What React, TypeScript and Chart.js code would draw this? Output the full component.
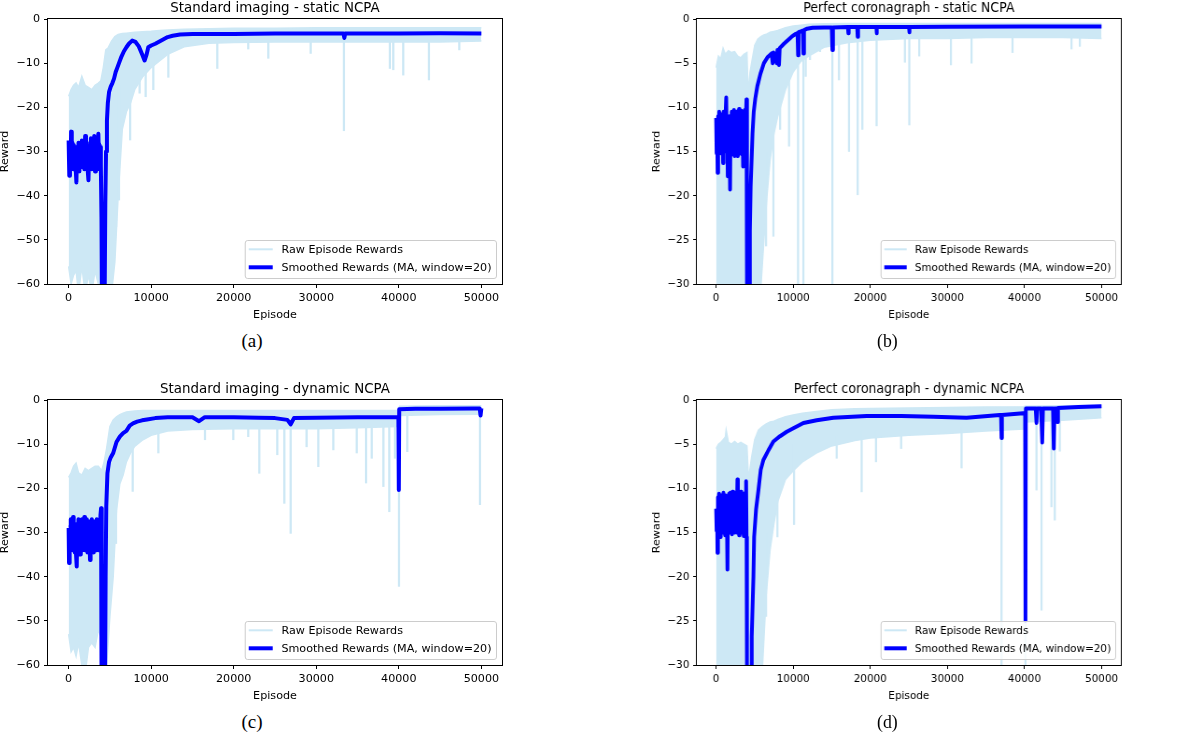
import React, { useEffect, useRef } from "react";
import { Chart, registerables } from "chart.js";

Chart.register(...registerables);

// [episode, upper edge, lower edge] of a dense trace drawn as a filled band
type BandRow = [number, number, number];
// [episode, lowest reward, top of the stroke] for isolated raw drops
type SpikeRow = [number, number, number];
// [episode, smoothed reward]
type Point = [number, number];

const FONT = "'DejaVu Sans', 'Noto Sans', sans-serif";
const CAPTION_FONT = "'Liberation Serif', 'DejaVu Serif', serif";
const RAW_COLOR = "#cde8f5";
const SMOOTH_COLOR = "#0000ff";

const RAW_LABEL = "Raw Episode Rewards";
const SMOOTH_LABEL = "Smoothed Rewards (MA, window=20)";
const X_LABEL = "Episode";
const Y_LABEL = "Reward";

const EPISODE_TICKS = [0, 10000, 20000, 30000, 40000, 50000];
const WIDE_REWARD_TICKS = [-60, -50, -40, -30, -20, -10, 0];
const NARROW_REWARD_TICKS = [-30, -25, -20, -15, -10, -5, 0];

// ---------- (a) Standard imaging - static NCPA ----------
const A_RAW: BandRow[] = [
  [0, -17.5, -56], [300, -16, -60], [600, -15, -58], [900, -14.5, -57], [1200, -15.5, -62],
  [1600, -13, -56], [2000, -15, -62], [2400, -15.5, -58], [2800, -16, -62], [3200, -15, -57],
  [3600, -14.5, -60], [3900, -14, -62], [4200, -11, -62], [4500, -7, -62], [4800, -6.5, -62],
  [5200, -5, -62], [5600, -4, -55], [6000, -3.5, -40], [6500, -3.3, -25], [7000, -3.2, -21],
  [7500, -3.1, -19], [8000, -3.0, -16], [9000, -2.9, -13], [10000, -2.8, -11], [11000, -2.6, -9.5],
  [12000, -2.5, -8], [14000, -2.3, -6.3], [17000, -2.2, -5.5], [20000, -2.1, -5.3], [25000, -2.1, -5.2],
  [30000, -2.0, -5.2], [35000, -2.0, -5.2], [40000, -2.0, -5.2], [45000, -2.0, -5.2], [49999, -2.0, -5.0],
];
const A_SPIKES: SpikeRow[] = [
  [5750, -47, -20], [6100, -41, -15], [7450, -27.4, -10], [8600, -16.8, -8], [9330, -17.6, -8],
  [10260, -16, -6], [12080, -13.2, -5], [18010, -11.2, -4], [21760, -6.8, -4], [24190, -8.9, -4],
  [29320, -7.8, -4], [33350, -25.3, -4], [38920, -11.2, -4], [39330, -11.5, -4], [40540, -12.7, -4],
  [43650, -13.8, -4], [47330, -7, -4],
];
const A_SPREAD: BandRow[] = [
  [0, -28, -34], [400, -28.5, -33], [800, -29, -34], [1200, -28.5, -33], [1600, -28, -33.5],
  [2000, -27.5, -33], [2400, -28.5, -34], [2800, -28, -33], [3200, -27.5, -33.5], [3600, -27.5, -33],
  [3950, -28.5, -33],
];
const A_SMOOTHED: Point[] = [
  [0, -27.5], [80, -35.5], [160, -30], [240, -34], [300, -25.5], [380, -33], [460, -28], [540, -34],
  [620, -28.5], [700, -33.5], [780, -29], [860, -34], [940, -37], [1020, -29], [1100, -33], [1200, -28],
  [1300, -34.5], [1400, -28.5], [1500, -33], [1600, -27.5], [1700, -33.5], [1800, -28], [1900, -34],
  [2000, -26.5], [2100, -33], [2200, -28], [2300, -34], [2400, -36.5], [2500, -29], [2600, -33],
  [2700, -27], [2800, -34], [2900, -28], [3000, -33.5], [3100, -26.5], [3200, -34.5], [3300, -28],
  [3400, -33], [3500, -27.5], [3600, -26], [3700, -34], [3800, -29], [3900, -33], [3980, -45],
  [4060, -75], [4320, -75], [4440, -42], [4530, -30], [4640, -23], [4750, -19], [4900, -16.5],
  [5100, -15.3], [5300, -14.5], [5500, -13.5], [5700, -12], [5900, -11], [6100, -10], [6400, -8.5],
  [6700, -7.3], [7000, -6.4], [7300, -5.6], [7700, -4.9], [8100, -5.2], [8500, -6.2], [8900, -8],
  [9200, -9.4], [9450, -8], [9650, -6.4], [10000, -6], [10500, -5.6], [11000, -5.1], [11500, -4.6],
  [12000, -4.1], [12600, -3.8], [13500, -3.5], [15000, -3.4], [20000, -3.4], [25000, -3.3],
  [30000, -3.3], [33300, -3.3], [33400, -4.3], [33500, -3.3], [40000, -3.3], [45000, -3.2], [49999, -3.3],
];

// ---------- (b) Perfect coronagraph - static NCPA ----------
const B_RAW: BandRow[] = [
  [0, -5.5, -30.5], [300, -4.2, -30.5], [600, -4.5, -30.5], [900, -3.3, -30.5], [1200, -4, -30.5],
  [1600, -3.6, -30.5], [2000, -3.8, -30.5], [2400, -3.7, -30.5], [2800, -4.2, -30.5], [3200, -4.4, -30.5],
  [3600, -4, -30.5], [4000, -3.8, -30.5], [4150, -8.5, -30.5], [4400, -6, -30.5], [4700, -4.5, -30.5],
  [5000, -3, -30.5], [5400, -2.3, -30.5], [5800, -2, -30.5], [6200, -1.8, -25], [6600, -1.7, -20],
  [7000, -1.5, -16], [7500, -1.4, -13], [8000, -1.3, -11], [9000, -1.0, -8], [10000, -0.8, -6],
  [11000, -0.7, -4.8], [12000, -0.6, -4.2], [14000, -0.55, -3.2], [17000, -0.5, -2.7], [20000, -0.5, -2.4],
  [25000, -0.5, -2.2], [30000, -0.5, -2.2], [35000, -0.5, -2.1], [40000, -0.5, -2.1], [45000, -0.5, -2.1],
  [49999, -0.5, -2.2],
];
const B_SPIKES: SpikeRow[] = [
  [6480, -25.7, -15], [7430, -24.6, -10], [8300, -12.5, -8], [9460, -14.4, -6], [10630, -30.5, -4],
  [11320, -30.5, -4], [11620, -6.5, -3], [12180, -4.6, -3], [13480, -3.7, -2.5], [15080, -30.5, -2.5],
  [15940, -6.9, -2], [17240, -15, -2], [18360, -19.9, -2], [18970, -12.5, -2], [20820, -12.1, -2],
  [24490, -4.9, -2], [25060, -12, -2], [26350, -4.2, -2], [30460, -5.2, -2], [33130, -5, -2],
  [38450, -3.8, -2], [46100, -3.4, -2], [47180, -3.1, -2],
];
const B_SPREAD: BandRow[] = [
  [0, -11.5, -14.8], [500, -11.2, -14.5], [1000, -11, -15], [1500, -11.5, -15], [2000, -11, -14.6],
  [2500, -11, -14.8], [3000, -10.8, -14.6], [3500, -11, -15], [3950, -11, -14.8],
];
const B_SMOOTHED: Point[] = [
  [0, -11.2], [60, -15.2], [120, -12], [190, -17.4], [260, -11], [330, -15], [400, -10.5], [470, -14.8],
  [540, -11.5], [610, -15.2], [680, -10.8], [750, -14.5], [820, -11], [900, -16.3], [970, -10.5],
  [1040, -15], [1110, -11.5], [1180, -14.6], [1250, -10.2], [1310, -8.9], [1380, -14], [1450, -11.5],
  [1510, -17.8], [1580, -12], [1650, -14.5], [1720, -11], [1810, -19.3], [1880, -11.5], [1950, -14.8],
  [2020, -10.5], [2100, -15.3], [2170, -11], [2250, -14.6], [2320, -10.3], [2400, -15.5], [2470, -11.2],
  [2550, -14.6], [2620, -10.5], [2700, -15], [2760, -15.5], [2830, -11], [2900, -14.5], [2970, -10.2],
  [3050, -15.2], [3120, -11], [3200, -14.6], [3270, -10.4], [3350, -15.3], [3420, -11], [3500, -16.7],
  [3570, -10.6], [3650, -15], [3720, -10.3], [3800, -15.3], [3870, -11], [3930, -9.1], [3980, -15],
  [4030, -31], [4300, -31], [4380, -24], [4480, -19], [4580, -16.5], [4720, -13], [4880, -10.5],
  [5080, -9], [5350, -7.6], [5750, -6.2], [6200, -5], [6700, -4.3], [7200, -3.9], [7340, -5],
  [7450, -3.8], [7860, -5], [7950, -3.5], [8160, -5.2], [8250, -3.3], [8800, -2.8], [9300, -2.4],
  [9800, -2], [10300, -1.7], [10560, -1.6], [10630, -4.1], [10700, -1.5], [11000, -1.4], [11250, -1.3],
  [11320, -3.9], [11400, -1.25], [11800, -1.1], [12500, -1.0], [14000, -0.95], [15000, -0.95],
  [15080, -3.5], [15160, -0.95], [17100, -0.9], [17150, -1.6], [17200, -0.9], [18300, -0.9],
  [18360, -2.0], [18420, -0.9], [20780, -0.9], [20820, -1.6], [20860, -0.9], [25020, -0.9],
  [25060, -1.5], [25100, -0.9], [30000, -0.88], [40000, -0.85], [49999, -0.85],
];

// ---------- (c) Standard imaging - dynamic NCPA ----------
const C_RAW: BandRow[] = [
  [0, -17.5, -53], [300, -16.5, -57], [600, -15, -56], [900, -14.3, -58], [1200, -16.5, -55],
  [1600, -17, -60], [2000, -15.5, -62], [2400, -16, -56], [2800, -15.5, -55], [3200, -15, -56],
  [3600, -15, -52], [4000, -16, -54], [4300, -14, -62], [4600, -11, -60], [5000, -6, -49],
  [5400, -4.5, -40], [5800, -3.8, -25], [6200, -3.3, -19], [6600, -3, -17], [7000, -2.7, -14],
  [7500, -2.6, -12], [8000, -2.5, -10.5], [9000, -2.4, -9], [10000, -2.4, -8], [12000, -2.4, -7],
  [15000, -2.4, -6.7], [20000, -2.4, -6.5], [25000, -2.4, -6.5], [30000, -2.4, -6.5], [35000, -2.4, -6.3],
  [39900, -2.4, -6], [40100, -1.4, -3.5], [45000, -1.3, -3.3], [49999, -1.3, -3.2],
];
const C_SPIKES: SpikeRow[] = [
  [5740, -32.5, -20], [7760, -20.7, -10], [10870, -12, -6], [16520, -9, -5], [19950, -9, -5],
  [21760, -8.3, -5], [23100, -16.6, -5], [25280, -12.4, -5], [26130, -23.4, -5], [26900, -30.2, -5],
  [28830, -10.6, -5], [30250, -15.1, -5], [32070, -11.3, -5], [34900, -12, -5], [36030, -18.8, -5],
  [36720, -13.2, -5], [38130, -19.6, -5], [38850, -25.3, -5], [39530, -13.2, -5], [40020, -42.2, -5],
  [41030, -11.7, -2.5], [49830, -23.7, -2.5],
];
const C_SPREAD: BandRow[] = [
  [0, -28.5, -34], [400, -28, -33.5], [800, -29, -34.5], [1200, -28, -34], [1600, -27.5, -33.5],
  [2000, -28, -33.5], [2400, -28, -34], [2800, -27.5, -33], [3200, -28, -33.5], [3600, -28, -33.5],
  [3950, -27, -33],
];
const C_SMOOTHED: Point[] = [
  [0, -29], [50, -36.9], [120, -30], [190, -34], [260, -27], [330, -33.5], [400, -28], [470, -34],
  [540, -26.5], [610, -33], [680, -28.5], [750, -34.5], [820, -29], [900, -35], [980, -37.7],
  [1050, -28], [1120, -33.5], [1190, -27], [1260, -34], [1330, -28], [1400, -35], [1470, -27.5],
  [1540, -33], [1610, -27], [1680, -34], [1750, -28.5], [1830, -33.5], [1900, -26.5], [1980, -34],
  [2050, -28], [2130, -33], [2200, -27], [2280, -34.5], [2350, -28], [2430, -33.5], [2500, -27.5],
  [2590, -36.2], [2660, -28], [2740, -34], [2810, -27], [2890, -33], [2960, -28], [3040, -34.5],
  [3110, -27.5], [3190, -33], [3260, -28], [3340, -34], [3410, -27], [3490, -33.5], [3560, -28],
  [3640, -34], [3710, -27.5], [3790, -33], [3860, -26], [3930, -24.5], [3980, -34], [4030, -75],
  [4380, -75], [4480, -40], [4560, -24], [4700, -16.6], [4900, -14], [5100, -13], [5400, -12],
  [5800, -9.5], [6200, -8.3], [6600, -7.5], [7000, -7], [7400, -5.8], [7800, -5.3], [8300, -4.9],
  [8900, -4.6], [9500, -4.4], [10500, -4.1], [12000, -3.9], [15000, -3.9], [15800, -4.8], [16500, -3.9],
  [20000, -3.9], [23000, -4], [25000, -4.1], [26500, -4.5], [26900, -5.5], [27300, -4.1], [30000, -4],
  [35000, -3.9], [39950, -3.9], [40000, -20.4], [40050, -2.1], [42000, -2.0], [45000, -2.0],
  [49000, -1.9], [49800, -1.9], [49900, -3.5], [49999, -1.9],
];

// ---------- (d) Perfect coronagraph - dynamic NCPA ----------
const D_RAW: BandRow[] = [
  [0, -5.5, -30.5], [300, -5, -30.5], [600, -4.8, -30.5], [900, -4.5, -30.5], [1200, -4.2, -30.5],
  [1300, -3.4, -30.5], [1600, -4.8, -30.5], [2000, -5, -30.5], [2400, -4.7, -30.5], [2800, -5, -30.5],
  [3200, -4.8, -30.5], [3600, -5, -30.5], [4000, -5.2, -30.5], [4200, -9, -30.5], [4600, -6.5, -30.5],
  [5000, -4.5, -30.5], [5500, -3.4, -30.5], [6000, -3, -30.5], [6500, -2.7, -22], [7000, -2.5, -17],
  [7500, -2.4, -14], [8000, -2.2, -11.5], [9000, -1.9, -9], [10000, -1.7, -8], [11200, -1.5, -7],
  [13000, -1.3, -6], [15000, -1.1, -5.2], [18000, -1.0, -4.6], [20000, -0.95, -4.3], [25000, -0.9, -4],
  [30000, -0.85, -3.8], [35000, -0.8, -3.5], [39900, -0.75, -3.3], [40100, -0.7, -2.5], [45000, -0.65, -2.3],
  [49999, -0.6, -2],
];
const D_SPIKES: SpikeRow[] = [
  [6480, -24.5, -15], [7950, -15.5, -8], [10110, -14.1, -5], [15640, -6.6, -4], [18880, -10.4, -3.5],
  [20740, -7, -3.5], [24000, -5.5, -3.5], [31840, -7.7, -3], [37020, -30.5, -3], [40130, -30.5, -2],
  [41560, -10.2, -2], [42210, -23.8, -2], [43500, -12.1, -2], [43930, -13.6, -2], [44580, -5.8, -2],
];
const D_SPREAD: BandRow[] = [
  [0, -12.5, -14.8], [500, -11.2, -14.8], [1000, -11, -15], [1500, -11.2, -14.8], [2000, -11, -14.8],
  [2500, -11, -14.6], [3000, -11, -15], [3500, -11, -14.8], [3900, -10.8, -15],
];
const D_SMOOTHED: Point[] = [
  [0, -12.3], [60, -14.8], [120, -12.5], [170, -17.3], [240, -11], [310, -15], [380, -10.6], [450, -14.5],
  [520, -11], [600, -15.5], [670, -10.8], [740, -14.8], [810, -11.4], [880, -15], [950, -10.5],
  [1020, -14.6], [1090, -11], [1160, -15.3], [1230, -10.8], [1300, -14.5], [1380, -11.5], [1470, -19.2],
  [1540, -11], [1610, -14.5], [1680, -10.6], [1760, -15], [1830, -10.5], [1910, -14.7], [1980, -11],
  [2060, -15.2], [2130, -10.4], [2210, -14.5], [2280, -11], [2360, -15], [2430, -10.5], [2510, -14.6],
  [2580, -11], [2660, -15], [2760, -9.0], [2830, -14], [2900, -10.8], [2980, -15.3], [3050, -11],
  [3130, -14.6], [3200, -10.4], [3280, -15], [3350, -11], [3430, -14.5], [3500, -10.6], [3580, -15.4],
  [3650, -11], [3730, -14.8], [3800, -10.5], [3890, -9.2], [3950, -15.5], [4000, -31], [4550, -31],
  [4620, -26.8], [4840, -20], [4930, -15.5], [5180, -12.4], [5490, -10.2], [5790, -7.9], [6130, -6.8],
  [6780, -5.7], [7430, -4.7], [8290, -4.1], [9160, -3.6], [10020, -3.2], [11320, -2.6], [13050, -2.3],
  [15210, -2.0], [19530, -1.8], [24000, -1.8], [28170, -1.9], [32490, -2.0], [36800, -1.7],
  [36960, -1.7], [37020, -4.3], [37080, -1.7], [39830, -1.5], [40080, -1.5], [40130, -25],
  [40180, -0.95], [41450, -0.95], [41560, -2.6], [41650, -0.95], [42150, -0.95], [42300, -4.8],
  [42400, -0.95], [43700, -0.95], [43800, -5.5], [43900, -0.95], [44250, -0.95], [44300, -2.5],
  [44350, -0.9], [47000, -0.8], [49999, -0.7],
];

// Each subplot is laid out in its own 560 x 356 box; the right-hand column is narrower on the page.
const CANVAS_W = 560;
const CANVAS_H = 330;
const BOX_H = 356;

interface PanelSpec {
  title: string;
  caption: string;
  yMin: number;
  yTicks: number[];
  raw: BandRow[];
  spikes: SpikeRow[];
  spread: BandRow[];
  smoothed: Point[];
  left: number;
  top: number;
  squeeze: number;
}

const PANELS: PanelSpec[] = [
  { title: "Standard imaging - static NCPA", caption: "(a)", yMin: -60, yTicks: WIDE_REWARD_TICKS,
    raw: A_RAW, spikes: A_SPIKES, spread: A_SPREAD, smoothed: A_SMOOTHED, left: 0, top: 0, squeeze: 1 },
  { title: "Perfect coronagraph - static NCPA", caption: "(b)", yMin: -30, yTicks: NARROW_REWARD_TICKS,
    raw: B_RAW, spikes: B_SPIKES, spread: B_SPREAD, smoothed: B_SMOOTHED, left: 652.2, top: 0, squeeze: 0.9339 },
  { title: "Standard imaging - dynamic NCPA", caption: "(c)", yMin: -60, yTicks: WIDE_REWARD_TICKS,
    raw: C_RAW, spikes: C_SPIKES, spread: C_SPREAD, smoothed: C_SMOOTHED, left: 0, top: 381, squeeze: 1 },
  { title: "Perfect coronagraph - dynamic NCPA", caption: "(d)", yMin: -30, yTicks: NARROW_REWARD_TICKS,
    raw: D_RAW, spikes: D_SPIKES, spread: D_SPREAD, smoothed: D_SMOOTHED, left: 652.2, top: 381, squeeze: 0.9339 },
];

const formatReward = (v: number | string) => {
  const n = Number(v);
  return n < 0 ? "\u2212" + Math.abs(n) : String(n);
};

// Black box around the plotting area, drawn over the data like axis spines.
const framePlugin = {
  id: "axesFrame",
  afterDatasetsDraw(chart: any) {
    const { ctx, chartArea: a } = chart;
    ctx.save();
    ctx.strokeStyle = "#000";
    ctx.lineWidth = 1;
    ctx.strokeRect(a.left - 0.5, a.top - 0.5, a.right - a.left + 1, a.bottom - a.top + 1);
    ctx.restore();
  },
};

// Legend box in the lower-right corner of the plotting area.
const cornerLegendPlugin = {
  id: "cornerLegend",
  afterDraw(chart: any) {
    const { ctx, chartArea: a } = chart;
    const items = [
      { text: RAW_LABEL, color: RAW_COLOR, width: 2 },
      { text: SMOOTH_LABEL, color: SMOOTH_COLOR, width: 4 },
    ];
    ctx.save();
    ctx.font = `11.15px ${FONT}`;
    const textW = Math.max(...items.map((it) => ctx.measureText(it.text).width));
    const w = 36.7 + textW + 4.5;
    const h = 38;
    const x = a.right - 6 - w;
    const y = a.bottom - 6 - h;
    ctx.beginPath();
    ctx.roundRect(x + 0.5, y + 0.5, w, h, 2.5);
    ctx.fillStyle = "rgba(255,255,255,0.8)";
    ctx.fill();
    ctx.strokeStyle = "#cccccc";
    ctx.lineWidth = 1;
    ctx.stroke();
    items.forEach((it, i) => {
      const cy = y + 9.3 + i * 18;
      ctx.beginPath();
      ctx.moveTo(x + 4, cy);
      ctx.lineTo(x + 28, cy);
      ctx.strokeStyle = it.color;
      ctx.lineWidth = it.width;
      ctx.stroke();
      ctx.fillStyle = "#000";
      ctx.textAlign = "left";
      ctx.textBaseline = "middle";
      ctx.fillText(it.text, x + 36.7, cy + 0.5);
    });
    ctx.restore();
  },
};

const tickFont = { family: FONT, size: 11.15 };
const axisGrid = {
  display: true,
  drawOnChartArea: false,
  drawTicks: true,
  tickLength: 4,
  color: "#000",
  lineWidth: 1,
  offset: false,
};

const bandEdge = (rows: BandRow[], col: 1 | 2) => rows.map((r) => ({ x: r[0], y: r[col] }));

function buildConfig(p: PanelSpec): any {
  const lineBase = { type: "line", pointRadius: 0, tension: 0, clip: 0 };
  return {
    type: "line",
    data: {
      datasets: [
        {
          ...lineBase,
          label: SMOOTH_LABEL,
          data: p.smoothed.map(([x, y]) => ({ x, y })),
          borderColor: SMOOTH_COLOR,
          borderWidth: 4,
          borderJoinStyle: "round",
          fill: false,
          order: 0,
        },
        {
          ...lineBase,
          label: SMOOTH_LABEL + " (spread)",
          data: bandEdge(p.spread, 1),
          borderColor: SMOOTH_COLOR,
          borderWidth: 1,
          fill: false,
          order: 1,
        },
        {
          ...lineBase,
          label: SMOOTH_LABEL + " (spread floor)",
          data: bandEdge(p.spread, 2),
          borderColor: SMOOTH_COLOR,
          backgroundColor: SMOOTH_COLOR,
          borderWidth: 1,
          fill: "-1",
          order: 2,
        },
        {
          type: "bar",
          label: RAW_LABEL + " (drops)",
          data: p.spikes.map(([x, lo, hi]) => ({ x, y: [lo, hi] })),
          backgroundColor: RAW_COLOR,
          borderWidth: 0,
          barThickness: 1.6,
          order: 3,
          clip: 0,
        },
        {
          ...lineBase,
          label: RAW_LABEL,
          data: bandEdge(p.raw, 1),
          borderColor: RAW_COLOR,
          borderWidth: 1.5,
          fill: false,
          order: 4,
        },
        {
          ...lineBase,
          label: RAW_LABEL + " (lower)",
          data: bandEdge(p.raw, 2),
          borderColor: RAW_COLOR,
          backgroundColor: RAW_COLOR,
          borderWidth: 1.5,
          fill: "-1",
          order: 5,
        },
      ],
    },
    options: {
      responsive: false,
      animation: false,
      devicePixelRatio: 1,
      events: [],
      layout: { padding: { left: 0, right: 58, top: 0, bottom: 0 } },
      plugins: {
        legend: { display: false },
        tooltip: { enabled: false },
        title: {
          display: true,
          text: p.title,
          color: "#000",
          fullSize: false,
          font: { family: FONT, size: 13.4, weight: "normal", lineHeight: 1.2 },
          padding: { top: 0, bottom: 2.92 },
        },
      },
      scales: {
        x: {
          type: "linear",
          min: -2500,
          max: 52500,
          offset: false,
          grid: axisGrid,
          border: { display: false },
          ticks: {
            color: "#000",
            font: tickFont,
            padding: 3,
            maxRotation: 0,
            autoSkip: false,
            callback: (v: number | string) => String(v),
          },
          title: {
            display: true,
            text: X_LABEL,
            color: "#000",
            font: { family: FONT, size: 11.15, lineHeight: 1 },
            padding: { top: 0, bottom: 9.4 },
          },
          afterBuildTicks: (s: any) => {
            s.ticks = EPISODE_TICKS.map((value) => ({ value }));
          },
          afterFit: (s: any) => {
            s.height = 46;
          },
        },
        y: {
          type: "linear",
          min: p.yMin,
          max: 0,
          beginAtZero: false,
          grid: axisGrid,
          border: { display: false },
          ticks: {
            color: "#000",
            font: tickFont,
            padding: 4,
            autoSkip: false,
            callback: formatReward,
          },
          title: {
            display: true,
            text: Y_LABEL,
            color: "#000",
            font: { family: FONT, size: 11.15, lineHeight: 1 },
            padding: { top: 0, bottom: 0 },
          },
          afterBuildTicks: (s: any) => {
            s.ticks = p.yTicks.map((value) => ({ value }));
          },
          afterFit: (s: any) => {
            s.width = 48;
          },
        },
      },
    },
    plugins: [framePlugin, cornerLegendPlugin],
  };
}

function Panel({ spec }: { spec: PanelSpec }) {
  const ref = useRef<HTMLCanvasElement | null>(null);
  useEffect(() => {
    if (!ref.current) return;
    const chart = new Chart(ref.current, buildConfig(spec));
    return () => chart.destroy();
  }, [spec]);
  return (
    <div
      style={{
        position: "absolute",
        left: spec.left,
        top: spec.top,
        width: CANVAS_W,
        height: BOX_H,
        transform: `scaleX(${spec.squeeze})`,
        transformOrigin: "0 0",
      }}
    >
      <canvas ref={ref} width={CANVAS_W} height={CANVAS_H} style={{ display: "block" }} />
      <div
        style={{
          position: "absolute",
          left: 252 - 40,
          top: 342.7 - 11.4,
          width: 80,
          textAlign: "center",
          fontFamily: CAPTION_FONT,
          fontSize: 19,
          lineHeight: "19px",
          color: "#000",
        }}
      >
        {spec.caption}
      </div>
    </div>
  );
}

export default function App() {
  return (
    <div
      style={{
        position: "absolute",
        left: 0,
        top: 0,
        width: 1200,
        height: 734,
        overflow: "hidden",
        background: "#fff",
      }}
    >
      {PANELS.map((p) => (
        <Panel key={p.caption} spec={p} />
      ))}
    </div>
  );
}
